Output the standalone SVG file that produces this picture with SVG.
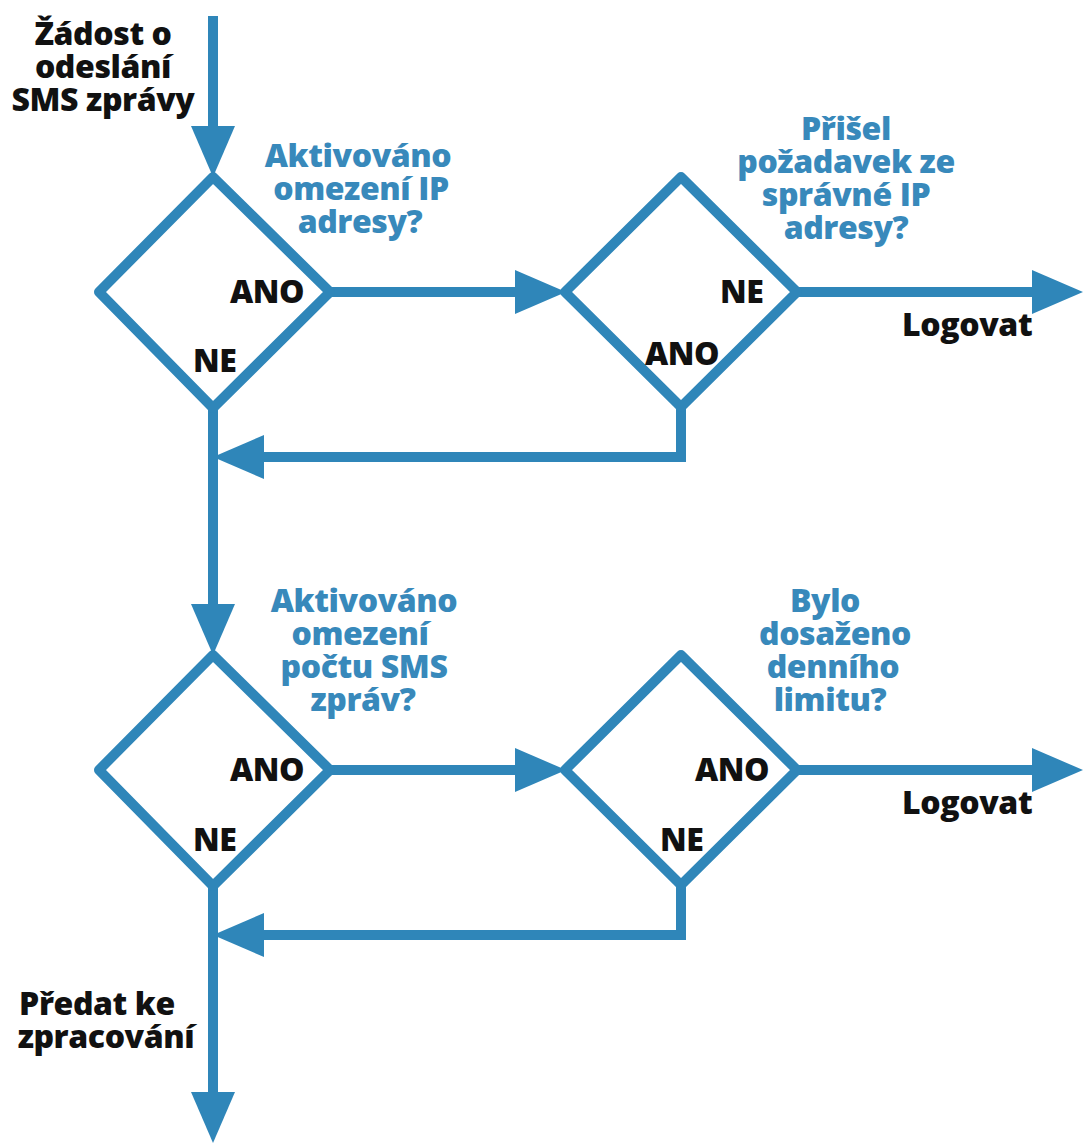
<svg xmlns="http://www.w3.org/2000/svg" width="1083" height="1144" viewBox="0 0 1083 1144">
  <style>
    .flow { fill: none; stroke: #2f86b9; stroke-width: 10; }
    .shape { fill: none; stroke: #2f86b9; stroke-width: 10; stroke-linejoin: round; }
    .t { font-family: "Open Sans", "Liberation Sans", sans-serif; font-weight: 800; font-size: 32px; letter-spacing: -0.4px; }
    .dark { fill: #111111; }
    .blue { fill: #3889bb; }
    .c { text-anchor: middle; }
  </style>
  <defs>
    <marker id="head" markerUnits="userSpaceOnUse" markerWidth="52" markerHeight="48" refX="0" refY="24" orient="auto">
      <path d="M0,2 L51,24 L0,46 Z" fill="#2f86b9"/>
    </marker>
  </defs>

  <!-- connectors -->
  <g id="connectors">
    <line class="flow" x1="213" y1="16" x2="213" y2="126" marker-end="url(#head)"/>
    <line class="flow" x1="330" y1="292" x2="515" y2="292" marker-end="url(#head)"/>
    <line class="flow" x1="797" y1="292" x2="1032" y2="292" marker-end="url(#head)"/>
    <polyline class="flow" points="681,407 681,457 264,457" marker-end="url(#head)"/>
    <line class="flow" x1="213" y1="408" x2="213" y2="604" marker-end="url(#head)"/>
    <line class="flow" x1="330" y1="770" x2="515" y2="770" marker-end="url(#head)"/>
    <line class="flow" x1="797" y1="770" x2="1032" y2="770" marker-end="url(#head)"/>
    <polyline class="flow" points="681,885 681,935 264,935" marker-end="url(#head)"/>
    <line class="flow" x1="213" y1="886" x2="213" y2="1092" marker-end="url(#head)"/>
  </g>

  <!-- start / end labels -->
  <g id="start">
    <text class="t dark c" x="103" y="45">Žádost o</text>
    <text class="t dark c" x="103" y="78">odeslání</text>
    <text class="t dark c" x="103" y="111">SMS zprávy</text>
  </g>
  <g id="end">
    <text class="t dark c" x="97" y="1015">Předat ke</text>
    <text class="t dark c" x="106" y="1048">zpracování</text>
  </g>

  <!-- decision: IP restriction enabled -->
  <g id="ip-restriction">
    <polygon class="shape" points="213,177 330,292 213,408 99,292"/>
    <text class="t blue c" x="358" y="167">Aktivováno</text>
    <text class="t blue c" x="361" y="200">omezení IP</text>
    <text class="t blue c" x="360" y="233">adresy?</text>
    <text class="t dark" x="230" y="303">ANO</text>
    <text class="t dark" x="193" y="372">NE</text>
  </g>

  <!-- decision: request from allowed IP -->
  <g id="ip-check">
    <polygon class="shape" points="681,177 797,292 681,407 565,292"/>
    <text class="t blue c" x="846" y="140">Přišel</text>
    <text class="t blue c" x="846" y="173">požadavek ze</text>
    <text class="t blue c" x="846" y="206">správné IP</text>
    <text class="t blue c" x="846" y="239">adresy?</text>
    <text class="t dark" x="720" y="303">NE</text>
    <text class="t dark" x="645" y="365">ANO</text>
    <text class="t dark" x="902" y="336">Logovat</text>
  </g>

  <!-- decision: SMS count limit enabled -->
  <g id="sms-limit">
    <polygon class="shape" points="213,655 330,770 213,886 99,770"/>
    <text class="t blue c" x="364" y="612">Aktivováno</text>
    <text class="t blue c" x="360" y="645">omezení</text>
    <text class="t blue c" x="364" y="678">počtu SMS</text>
    <text class="t blue c" x="363" y="711">zpráv?</text>
    <text class="t dark" x="230" y="781">ANO</text>
    <text class="t dark" x="193" y="851">NE</text>
  </g>

  <!-- decision: daily limit reached -->
  <g id="daily-limit">
    <polygon class="shape" points="681,655 797,770 681,885 565,770"/>
    <text class="t blue c" x="825" y="612">Bylo</text>
    <text class="t blue c" x="835" y="645">dosaženo</text>
    <text class="t blue c" x="833" y="678">denního</text>
    <text class="t blue c" x="830" y="711">limitu?</text>
    <text class="t dark" x="695" y="781">ANO</text>
    <text class="t dark" x="660" y="851">NE</text>
    <text class="t dark" x="902" y="814">Logovat</text>
  </g>
</svg>
